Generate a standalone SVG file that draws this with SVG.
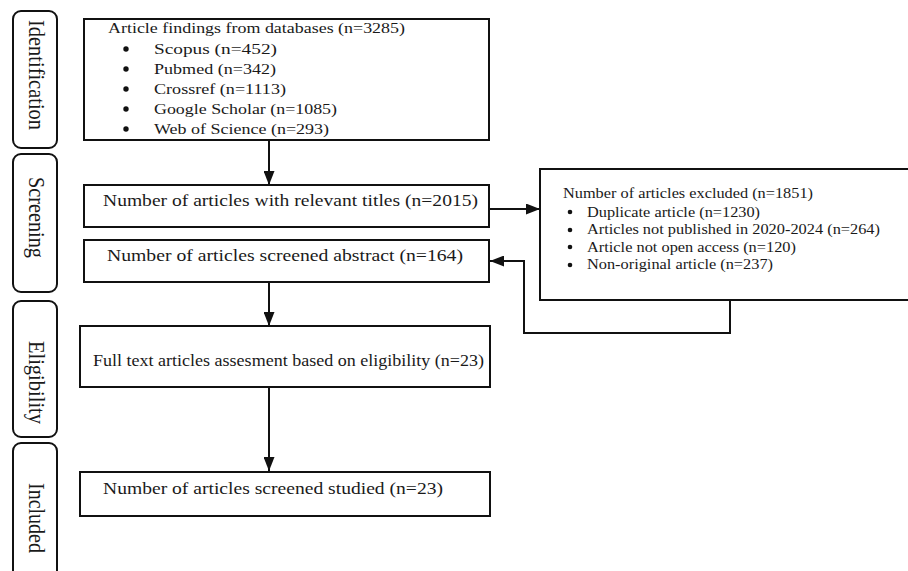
<svg xmlns="http://www.w3.org/2000/svg" width="908" height="571" viewBox="0 0 908 571">
<defs>
<style>
.box{fill:#fff;stroke:#111;stroke-width:2}
.side{fill:#fff;stroke:#111;stroke-width:2}
.t{font-family:"Liberation Serif","Times New Roman",serif;fill:#1a1a1a}
.m{font-size:17px}
.s{font-size:15px}
.r{font-size:14.5px}
.v{font-size:20px}
.ln{fill:none;stroke:#111;stroke-width:2}
.dot{fill:#111}
</style>
<marker id="ah" viewBox="0 0 14 11" refX="14" refY="5.5" markerWidth="14" markerHeight="11" markerUnits="userSpaceOnUse" orient="auto">
<path d="M0,0 L14,5.5 L0,11 Z" fill="#111"/>
</marker>
</defs>
<rect width="908" height="571" fill="#fff"/>

<g id="stage-identification">
<rect class="side" x="13" y="11" width="44" height="137" rx="8"/>
<text class="t v" transform="translate(29,20) scale(1.15,1) rotate(90)" textLength="110" lengthAdjust="spacingAndGlyphs">Identification</text>
</g>
<g id="stage-screening">
<rect class="side" x="13" y="154" width="44" height="138" rx="8"/>
<text class="t v" transform="translate(29,177) scale(1.15,1) rotate(90)" textLength="81" lengthAdjust="spacingAndGlyphs">Screening</text>
</g>
<g id="stage-eligibility">
<rect class="side" x="13" y="301" width="44" height="136" rx="8"/>
<text class="t v" transform="translate(29,341) scale(1.15,1) rotate(90)" textLength="83" lengthAdjust="spacingAndGlyphs">Eligibility</text>
</g>
<g id="stage-included">
<rect class="side" x="13" y="443" width="44" height="150" rx="8"/>
<text class="t v" transform="translate(29,483) scale(1.15,1) rotate(90)" textLength="70" lengthAdjust="spacingAndGlyphs">Included</text>
</g>

<g id="node-identification">
<rect class="box" x="84" y="19" width="405" height="121"/>
<text class="t s" x="108" y="33" textLength="297" lengthAdjust="spacingAndGlyphs">Article findings from databases (n=3285)</text>
<circle class="dot" cx="126" cy="49" r="2.7"/>
<circle class="dot" cx="126" cy="69" r="2.7"/>
<circle class="dot" cx="126" cy="89" r="2.7"/>
<circle class="dot" cx="126" cy="109" r="2.7"/>
<circle class="dot" cx="126" cy="129" r="2.7"/>
<text class="t s" x="154" y="54" textLength="123" lengthAdjust="spacingAndGlyphs">Scopus (n=452)</text>
<text class="t s" x="154" y="74" textLength="122" lengthAdjust="spacingAndGlyphs">Pubmed (n=342)</text>
<text class="t s" x="154" y="94" textLength="132" lengthAdjust="spacingAndGlyphs">Crossref (n=1113)</text>
<text class="t s" x="154" y="114" textLength="183" lengthAdjust="spacingAndGlyphs">Google Scholar (n=1085)</text>
<text class="t s" x="154" y="134" textLength="175" lengthAdjust="spacingAndGlyphs">Web of Science (n=293)</text>
</g>

<g id="node-titles">
<rect class="box" x="84" y="185" width="405" height="42"/>
<text class="t m" x="103" y="206" textLength="375" lengthAdjust="spacingAndGlyphs">Number of articles with relevant titles (n=2015)</text>
</g>

<g id="node-abstract">
<rect class="box" x="84" y="240" width="405" height="42"/>
<text class="t m" x="107" y="261" textLength="356" lengthAdjust="spacingAndGlyphs">Number of articles screened abstract (n=164)</text>
</g>

<g id="node-excluded">
<rect class="box" x="540" y="169" width="380" height="131"/>
<text class="t r" x="563" y="198" textLength="250" lengthAdjust="spacingAndGlyphs">Number of articles excluded (n=1851)</text>
<circle class="dot" cx="570" cy="212" r="2.3"/>
<circle class="dot" cx="570" cy="230" r="2.3"/>
<circle class="dot" cx="570" cy="247" r="2.3"/>
<circle class="dot" cx="570" cy="265" r="2.3"/>
<text class="t r" x="587" y="216.5" textLength="173" lengthAdjust="spacingAndGlyphs">Duplicate article (n=1230)</text>
<text class="t r" x="587" y="234" textLength="293" lengthAdjust="spacingAndGlyphs">Articles not published in 2020-2024 (n=264)</text>
<text class="t r" x="587" y="251.5" textLength="209" lengthAdjust="spacingAndGlyphs">Article not open access (n=120)</text>
<text class="t r" x="587" y="269" textLength="186" lengthAdjust="spacingAndGlyphs">Non-original article (n=237)</text>
</g>

<g id="node-eligibility">
<rect class="box" x="80" y="326" width="410" height="61"/>
<text class="t m" x="93" y="366" textLength="391" lengthAdjust="spacingAndGlyphs">Full text articles assesment based on eligibility (n=23)</text>
</g>

<g id="node-included">
<rect class="box" x="80" y="472" width="410" height="44"/>
<text class="t m" x="103" y="494" textLength="340" lengthAdjust="spacingAndGlyphs">Number of articles screened studied (n=23)</text>
</g>

<g id="connectors">
<line class="ln" x1="269" y1="141" x2="269" y2="185" marker-end="url(#ah)"/>
<line class="ln" x1="489" y1="209" x2="540" y2="209" marker-end="url(#ah)"/>
<polyline class="ln" points="730,300 730,333 524,333 524,261 490,261" marker-end="url(#ah)"/>
<line class="ln" x1="269" y1="282" x2="269" y2="326" marker-end="url(#ah)"/>
<line class="ln" x1="269" y1="388" x2="269" y2="471" marker-end="url(#ah)"/>
</g>
</svg>
